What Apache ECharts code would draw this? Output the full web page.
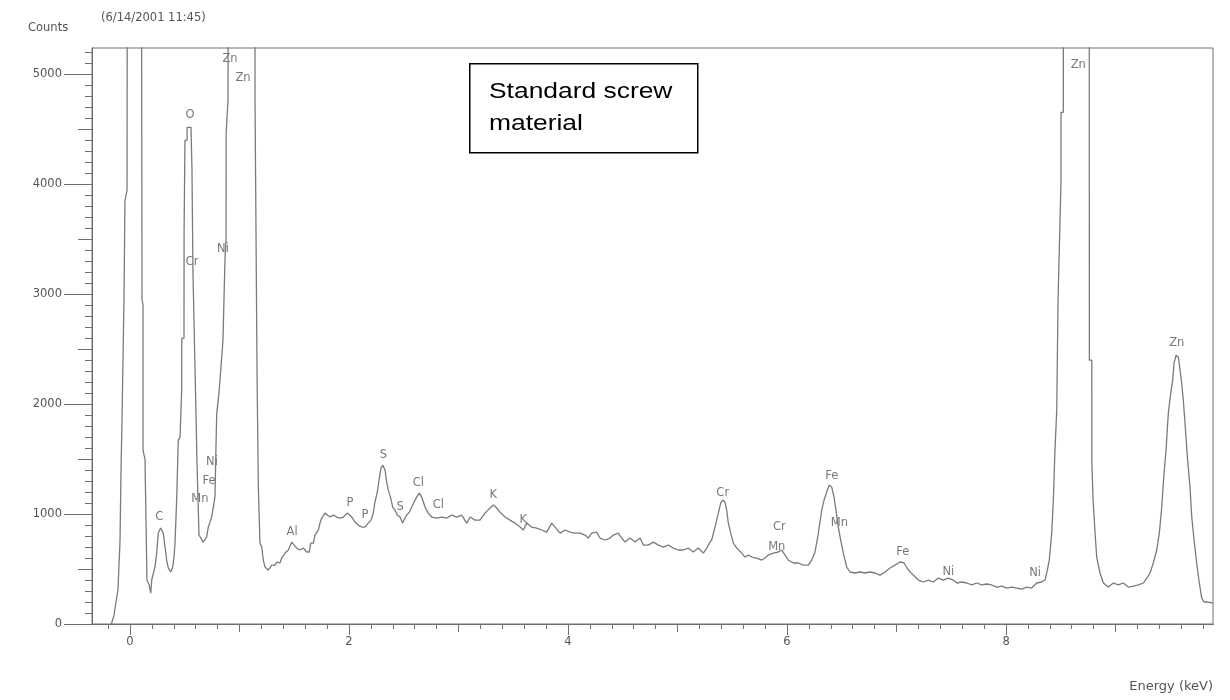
<!DOCTYPE html>
<html>
<head>
<meta charset="utf-8">
<title>EDS spectrum - standard screw material</title>
<script src="https://cdn.jsdelivr.net/npm/echarts@6/dist/echarts.min.js"></script>
<style>
html, body { margin: 0; padding: 0; background: #fff; }
#chart { width: 1230px; height: 700px; }
</style>
</head>
<body>
<div id="chart"></div>
<script>
// trace, [energy keV, counts]; off-scale peaks just go high and get clipped
var spectrum = [
	[-0.17, 0], [-0.146, 80], [-0.128, 200], [-0.11, 310], [-0.091, 760], [-0.082, 1400],
	[-0.073, 1850], [-0.055, 2950], [-0.046, 3850], [-0.027, 3950], [-0.025, 6000],
	[0.04, 30000], [0.105, 6000], [0.11, 2950], [0.119, 2900], [0.119, 1580], [0.137, 1500],
	[0.155, 400], [0.174, 360], [0.19, 280],
	// C, O
	[0.198, 400], [0.228, 518], [0.244, 645], [0.258, 827], [0.28, 873], [0.304, 827],
	[0.32, 700], [0.335, 582], [0.35, 509], [0.372, 473], [0.39, 518], [0.402, 609],
	[0.411, 736], [0.426, 1127], [0.441, 1673], [0.457, 1700], [0.472, 2127], [0.473, 2600],
	[0.493, 2600], [0.494, 3582], [0.502, 4400], [0.521, 4400], [0.522, 4518], [0.539, 4536],
	[0.557, 4518], [0.566, 4127], [0.575, 3200], [0.594, 2309], [0.612, 1464], [0.63, 809],
	[0.648, 782], [0.667, 745],
	// Mn Fe Ni L, Zn L
	[0.7, 791], [0.715, 882], [0.731, 927], [0.746, 973], [0.761, 1064], [0.776, 1155],
	[0.785, 1609], [0.792, 1918], [0.806, 2036], [0.822, 2218], [0.849, 2582], [0.868, 3336],
	[0.877, 3491], [0.878, 4464], [0.895, 4764], [0.896, 5218], [0.897, 6000], [1.01, 16000],
	[1.141, 6000], [1.142, 4736], [1.16, 4736], [1.16, 2309], [1.172, 2309], [1.172, 1245],
	[1.187, 1245], [1.187, 736], [1.203, 700], [1.217, 582], [1.233, 518],
	// Al, P, S, Cl, K
	[1.263, 491], [1.294, 536], [1.324, 536], [1.34, 564], [1.37, 555], [1.385, 600],
	[1.416, 645], [1.446, 673], [1.477, 745], [1.491, 736], [1.522, 691], [1.553, 673],
	[1.583, 691], [1.614, 655], [1.637, 655], [1.65, 736], [1.674, 736], [1.689, 809],
	[1.72, 855], [1.735, 918], [1.751, 964], [1.781, 1009], [1.796, 991], [1.826, 973],
	[1.857, 991], [1.888, 973], [1.918, 964], [1.948, 973], [1.984, 1009], [2.025, 973],
	[2.055, 927], [2.085, 900], [2.116, 882], [2.146, 882], [2.176, 918], [2.201, 945],
	[2.222, 1009], [2.237, 1109], [2.258, 1200], [2.277, 1327], [2.292, 1418], [2.308, 1445],
	[2.329, 1400], [2.344, 1291], [2.359, 1218], [2.381, 1145], [2.399, 1064], [2.42, 1036],
	[2.441, 991], [2.466, 973], [2.49, 918], [2.511, 964], [2.527, 991], [2.551, 1018],
	[2.573, 1064], [2.594, 1109], [2.618, 1155], [2.642, 1191], [2.664, 1155], [2.694, 1064],
	[2.724, 1009], [2.755, 973], [2.801, 964], [2.847, 973], [2.892, 964], [2.938, 991],
	[2.984, 973], [3.029, 991], [3.075, 918], [3.105, 973], [3.151, 945], [3.196, 945],
	[3.242, 1009], [3.288, 1055], [3.318, 1082], [3.349, 1055], [3.379, 1018], [3.425, 973],
	[3.47, 945], [3.516, 918], [3.562, 882], [3.592, 855], [3.623, 918], [3.668, 882],
	[3.714, 873], [3.76, 855], [3.805, 836], [3.851, 918], [3.881, 882], [3.927, 827],
	[3.973, 855], [4.018, 836], [4.064, 827], [4.11, 827], [4.155, 809], [4.186, 782],
	[4.216, 827], [4.262, 836], [4.292, 782], [4.338, 764], [4.384, 782], [4.414, 809],
	[4.459, 827], [4.49, 782], [4.521, 745], [4.566, 782], [4.612, 745], [4.658, 782],
	[4.688, 718], [4.733, 718], [4.779, 745], [4.825, 718], [4.87, 700], [4.916, 718],
	[4.962, 691], [5.007, 673], [5.053, 673], [5.098, 691], [5.144, 655], [5.19, 691],
	[5.236, 645], [5.267, 691],
	// Cr, Mn, Fe
	[5.297, 745], [5.312, 764], [5.342, 882], [5.373, 1009], [5.394, 1100], [5.413, 1127],
	[5.434, 1109], [5.449, 1036], [5.464, 918], [5.486, 827], [5.51, 736], [5.541, 691],
	[5.586, 645], [5.616, 609], [5.647, 627], [5.678, 609], [5.723, 600], [5.769, 582],
	[5.799, 600], [5.829, 627], [5.875, 645], [5.921, 655], [5.952, 673], [5.982, 627],
	[6.012, 582], [6.058, 555], [6.103, 555], [6.149, 536], [6.195, 536], [6.225, 582],
	[6.256, 655], [6.286, 827], [6.317, 1036], [6.338, 1127], [6.362, 1200], [6.386, 1264],
	[6.408, 1245], [6.429, 1155], [6.447, 1036], [6.468, 882], [6.49, 764], [6.514, 645],
	[6.545, 518], [6.575, 473], [6.621, 464], [6.667, 473], [6.712, 464], [6.758, 473],
	[6.804, 464], [6.849, 445], [6.895, 473], [6.941, 509], [6.986, 536], [7.032, 564],
	[7.068, 555], [7.108, 491], [7.153, 445], [7.199, 400], [7.245, 382], [7.29, 400],
	[7.336, 382], [7.382, 418], [7.427, 400], [7.473, 418], [7.519, 400], [7.55, 373],
	[7.595, 382], [7.641, 373], [7.687, 355], [7.732, 373], [7.778, 355], [7.824, 364],
	[7.869, 355], [7.915, 336], [7.961, 345], [8.006, 327], [8.052, 336], [8.098, 327],
	[8.143, 318], [8.189, 336], [8.234, 327], [8.28, 373], [8.326, 382], [8.356, 400],
	// Zn K
	[8.377, 491], [8.395, 582], [8.417, 827], [8.432, 1127], [8.447, 1582], [8.463, 1945],
	[8.475, 2945], [8.502, 4036], [8.502, 4655], [8.523, 4655], [8.524, 6000], [8.63, 40000],
	[8.76, 6000], [8.761, 2400], [8.783, 2400], [8.784, 1464], [8.795, 1127], [8.813, 827],
	[8.828, 609], [8.858, 464], [8.889, 373], [8.934, 336], [8.98, 373], [9.025, 355],
	[9.071, 373], [9.117, 336], [9.163, 345], [9.208, 355], [9.254, 373], [9.285, 418],
	[9.315, 464], [9.345, 555], [9.376, 673], [9.4, 827], [9.422, 1064], [9.443, 1373],
	[9.461, 1582], [9.482, 1918], [9.504, 2100], [9.522, 2218], [9.534, 2373], [9.553, 2445],
	[9.574, 2427], [9.589, 2309], [9.604, 2191], [9.619, 2036], [9.637, 1791], [9.656, 1518],
	[9.68, 1245], [9.696, 973], [9.717, 764], [9.741, 555], [9.765, 373], [9.787, 236],
	[9.808, 200], [9.847, 200], [9.888, 191]
];

// element markers written on the printout
var peakNames = ['C', 'O', 'Cr', 'Ni', 'Zn', 'Zn', 'Ni', 'Fe', 'Mn', 'Al', 'P', 'P', 'S', 'S',
	'Cl', 'Cl', 'K', 'K', 'Cr', 'Cr', 'Mn', 'Fe', 'Mn', 'Fe', 'Ni', 'Ni', 'Zn', 'Zn'];
var peakEnergy = [0.268, 0.548, 0.566, 0.849, 0.913, 1.032, 0.749, 0.721, 0.639, 1.48, 2.009, 2.146, 2.313, 2.466,
	2.633, 2.816, 3.318, 3.592, 5.413, 5.93, 5.906, 6.408, 6.478, 7.057, 7.473, 8.265, 8.66, 9.559];
var peakCounts = [973, 4627, 3291, 3409, 5141, 4968, 1473, 1300, 1140, 836, 1097, 991, 1536, 1066,
	1279, 1082, 1173, 945, 1188, 879, 703, 1345, 921, 652, 476, 461, 5082, 2552];

var xMajorTicks = [0, 2, 4, 6, 8];
var xMidTicks = [1, 3, 5, 7, 9];
var yMajorTicks = [0, 1000, 2000, 3000, 4000, 5000];
var yMidTicks = [500, 1500, 2500, 3500, 4500];

var xMinorTicks = [];
for (var i = -1; i <= 49; i++) xMinorTicks.push(Math.round(i * 2) / 10);
var yMinorTicks = [];
for (var j = 1; j <= 52; j++) yMinorTicks.push(j * 100);

var xMin = -0.347, xMax = 9.89, yMin = 0, yMax = 5240;
var axisGray = '#6e6e6e';
var textGray = '#555';
var font = '"DejaVu Sans", sans-serif';
var boxFont = '"Liberation Sans", Arial, sans-serif';

function plain(v) { return String(v); }

function xAxisOf(ticks, len, labels) {
	return {
		type: 'value', min: xMin, max: xMax, position: 'bottom',
		axisLine: { show: true, onZero: false, lineStyle: { color: axisGray, width: 1 } },
		axisTick: { show: true, customValues: ticks, length: len, lineStyle: { color: axisGray } },
		axisLabel: labels ? { show: true, customValues: ticks, margin: 12, color: textGray,
			fontSize: 11.5, fontFamily: font, formatter: plain } : { show: false },
		splitLine: { show: false }
	};
}
function yAxisOf(ticks, len, labels) {
	return {
		type: 'value', min: yMin, max: yMax, position: 'left',
		axisLine: { show: true, onZero: false, lineStyle: { color: axisGray, width: 1 } },
		axisTick: { show: true, customValues: ticks, length: len, lineStyle: { color: axisGray } },
		axisLabel: labels ? { show: true, customValues: ticks, margin: 30, color: textGray,
			fontSize: 11.5, fontFamily: font, formatter: plain } : { show: false },
		splitLine: { show: false }
	};
}

var peakData = [];
for (var k = 0; k < peakNames.length; k++) {
	peakData.push({ name: peakNames[k], value: [peakEnergy[k], peakCounts[k]] });
}

var myChart = echarts.init(document.getElementById('chart'), null, { renderer: 'canvas' });
var option = {
	animation: false,
	backgroundColor: '#fff',
	grid: { left: 92, right: 17, top: 48, bottom: 76, show: true, borderColor: axisGray, borderWidth: 1 },
	xAxis: [
		xAxisOf(xMajorTicks, 11, true),
		xAxisOf(xMidTicks, 8, false),
		xAxisOf(xMinorTicks, 5, false)
	],
	yAxis: [
		yAxisOf(yMajorTicks, 28, true),
		yAxisOf(yMidTicks, 14, false),
		yAxisOf(yMinorTicks, 7, false)
	],
	graphic: [
		{ type: 'text', left: 28, top: 22, style: { text: 'Counts', fill: textGray, font: '11.5px ' + font } },
		{ type: 'text', left: 101, top: 12, style: { text: '(6/14/2001 11:45)', fill: textGray, font: '11.5px ' + font } },
		{ type: 'text', right: 17, top: 680, style: { text: 'Energy (keV)', fill: textGray, font: '13px ' + font } },
		{ type: 'rect', left: 469, top: 63, shape: { width: 228, height: 89 },
			style: { fill: '#fff', stroke: '#000', lineWidth: 1.5 }, z: 100 },
		{ type: 'text', x: 489, y: 76, scaleX: 1.2, z: 101,
			style: { x: 0, y: 0, text: 'Standard screw\nmaterial', fill: '#000', font: '22px ' + boxFont,
				lineHeight: 32, verticalAlign: 'top' } }
	],
	series: [
		{
			type: 'line', xAxisIndex: 0, yAxisIndex: 0,
			data: spectrum, showSymbol: false, symbol: 'none', clip: true,
			lineStyle: { color: '#7a7a7a', width: 1.3 }
		},
		{
			type: 'scatter', xAxisIndex: 0, yAxisIndex: 0,
			data: peakData, symbolSize: 0, silent: true,
			label: { show: true, position: 'inside', formatter: '{b}', color: textGray,
				fontSize: 11.5, fontFamily: font }
		}
	]
};
myChart.setOption(option);
</script>
</body>
</html>
